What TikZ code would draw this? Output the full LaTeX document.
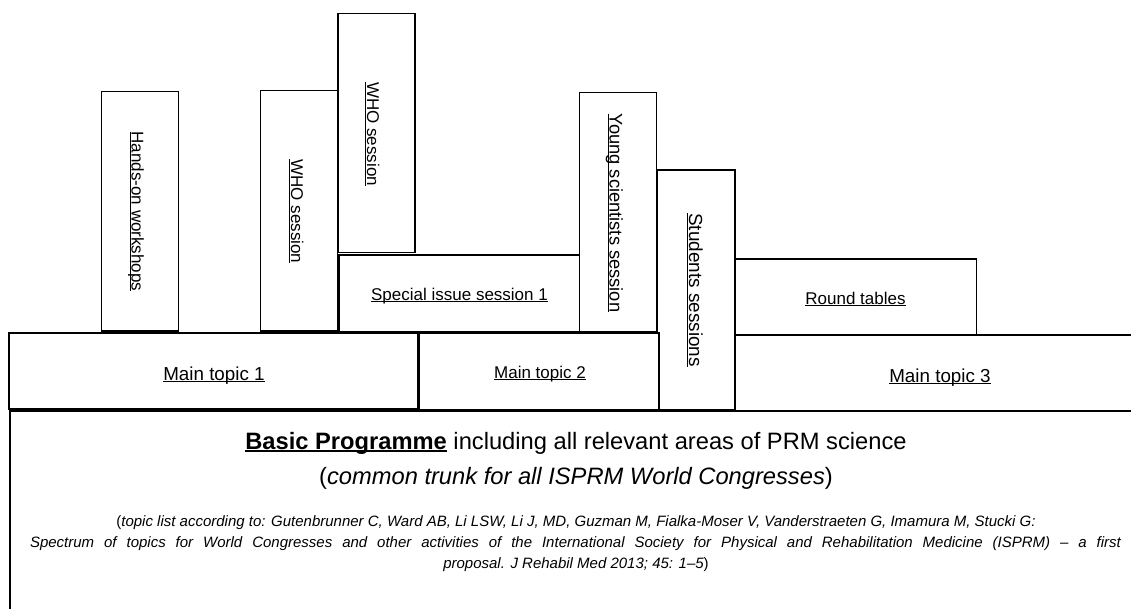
\documentclass[tikz,border=0pt]{standalone}
\usepackage{fontspec}
\setmainfont{Liberation Sans}
\newcommand\myul[1]{\setbox0\hbox{#1}\rlap{\rule[-2pt]{\wd0}{1.2pt}}\box0\relax}
\tikzset{
  thinbox/.style={draw=black, line width=1.4pt, fill=white},
  mainbox/.style={draw=black, line width=2pt, fill=white},
  lbl/.style={anchor=base, inner sep=0pt, font=\fontsize{17}{20}\selectfont},
  biglbl/.style={anchor=base, inner sep=0pt, font=\fontsize{18.8}{22}\selectfont},
  vlbl/.style={anchor=base, inner sep=0pt, rotate=-90, font=\fontsize{17}{20}\selectfont},
  smalltxt/.style={anchor=base, inner sep=0pt, font=\fontsize{15}{18}\selectfont\itshape}
}
\begin{document}
\begin{tikzpicture}[x=1pt,y=-1pt]
\useasboundingbox (0,0) rectangle (1131,608);
\clip (0,0) rectangle (1131,608);
\fill[white] (0,0) rectangle (1131,608);
% upper boxes
\draw[thinbox] (101.7,91.7) rectangle (178.7,331);
\draw[thinbox] (260.3,90.3) rectangle (337.3,331);
\draw[thinbox] (338,13.3) rectangle (415,252.7);
\draw[thinbox] (339,255) rectangle (580,331.7);
\draw[thinbox] (579.3,92.7) rectangle (656.7,332);
\draw[thinbox] (657,170) rectangle (735,410);
\draw[thinbox] (735.7,259) rectangle (976.7,335);
% main boxes
\draw[mainbox] (9,332.7) rectangle (418.3,409.3);
\draw[mainbox] (419,333.3) rectangle (659,410);
\draw[mainbox] (735,334.5) rectangle (1140,411.5);
\draw[mainbox] (10,410.5) rectangle (1140,620);
% labels
\node[vlbl] (hands) at (131.5,211.5) {\myul{Hands-on workshops}};
\node[vlbl] (who1) at (291,211.3) {\myul{WHO session}};
\node[vlbl] (who2) at (367,134) {\myul{WHO session}};
\node[lbl] (special) at (459.5,300) {\myul{Special issue session 1}};
\node[vlbl, font=\fontsize{18.3}{21}\selectfont] (young) at (609.5,213) {\myul{Young scientists session}};
\node[vlbl, font=\fontsize{18.9}{22}\selectfont] (students) at (689,290) {\myul{Students sessions}};
\node[lbl] (round) at (855.5,304) {\myul{Round tables}};
\node[biglbl] (main1) at (214,380) {\myul{Main topic 1}};
\node[lbl] (main2) at (540,378) {\myul{Main topic 2}};
\node[biglbl] (main3) at (940,382) {\myul{Main topic 3}};
% basic programme
\node[anchor=base, inner sep=0pt, font=\fontsize{23.7}{28}\selectfont] (basic) at (576,449.5)
  {\myul{\bfseries Basic Programme} including all relevant areas of PRM science};
\node[anchor=base, inner sep=0pt, font=\fontsize{23.7}{28}\selectfont] (trunk) at (576,484.5)
  {(\textit{common trunk for all ISPRM World Congresses})};
\node[smalltxt] (ref1) at (576,526.5)
  {\upshape(\itshape topic list according to: Gutenbrunner C, Ward AB, Li LSW, Li J, MD, Guzman M, Fialka-Moser V, Vanderstraeten G, Imamura M, Stucki G:};
\node[smalltxt] (ref2) at (575.5,547.5)
  {\makebox[1091pt][s]{Spectrum of topics for World Congresses and other activities of the International Society for Physical and Rehabilitation Medicine (ISPRM) -- a first}};
\node[smalltxt] (ref3) at (576,568.5)
  {proposal. J Rehabil Med 2013; 45: 1--5\upshape)};
\end{tikzpicture}
\end{document}
